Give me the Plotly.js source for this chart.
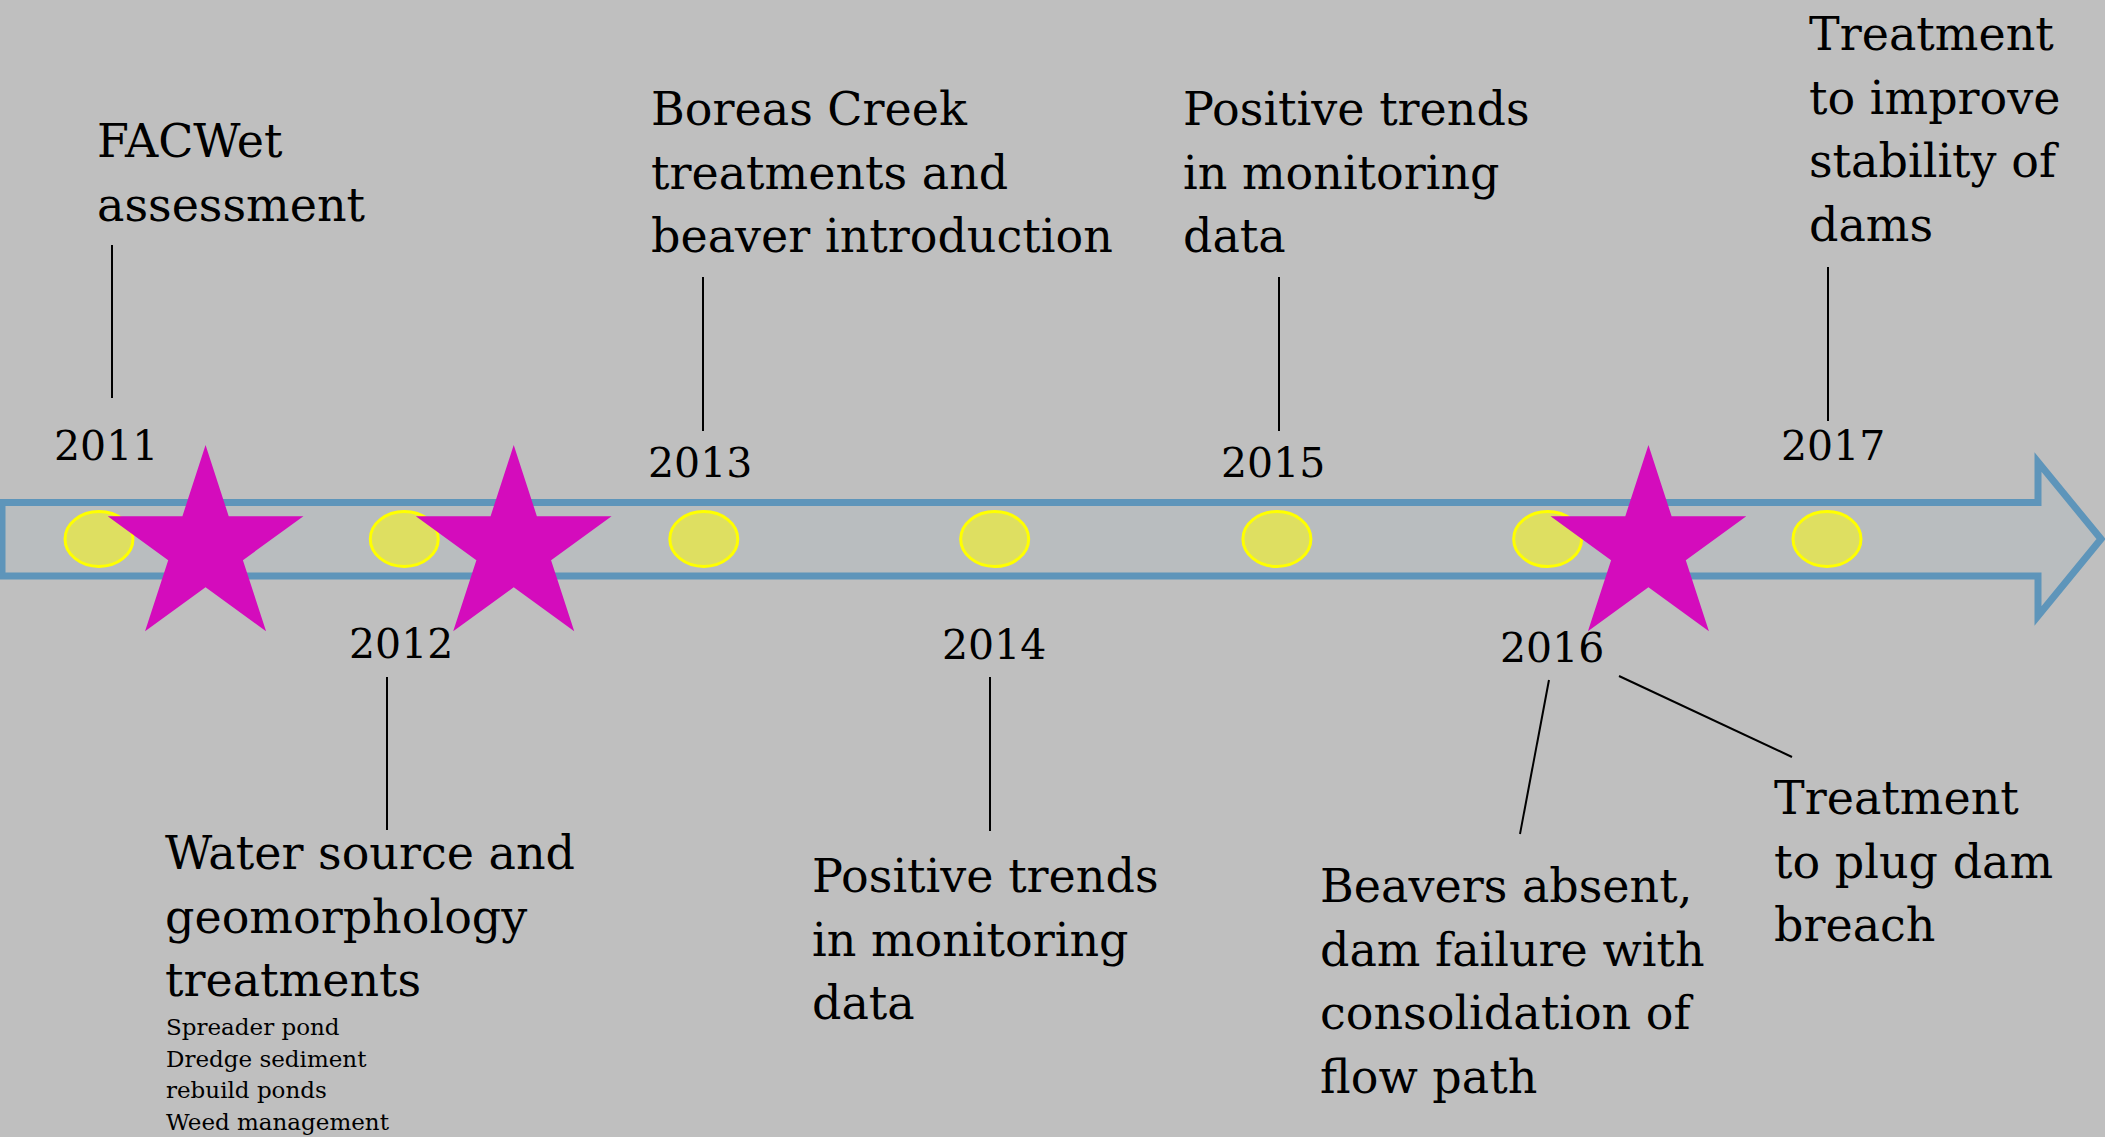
<!DOCTYPE html>
<html><head><meta charset="utf-8">
<script src="https://cdn.plot.ly/plotly-3.0.1.min.js"></script>
<style>html,body{margin:0;padding:0;background:#bfbfbf;overflow:hidden}</style>
</head><body><div id="chart" style="width:2105px;height:1137px"></div>
<script>
// ---------------- data ----------------
const years    = ['2011', '2012', '2013', '2014', '2015', '2016', '2017'];
const yearPos  = [2011.00, 2012.06, 2013.10, 2014.11, 2015.09, 2016.03, 2017.00]; // position of each year dot on the timeline
const yearSide = ['above', 'below', 'above', 'below', 'above', 'below', 'above'];
const starPos  = [2011.37, 2012.44, 2016.38]; // highlighted milestones

const eventText = [
  ['FACWet', 'assessment'],
  ['Water source and', 'geomorphology', 'treatments'],
  ['Boreas Creek', 'treatments and', 'beaver introduction'],
  ['Positive trends', 'in monitoring', 'data'],
  ['Positive trends', 'in monitoring', 'data'],
  ['Beavers absent,', 'dam failure with', 'consolidation of', 'flow path'],
  ['Treatment', 'to plug dam', 'breach'],
  ['Treatment', 'to improve', 'stability of', 'dams']
];
const subText = ['Spreader pond', 'Dredge sediment', 'rebuild ponds', 'Weed management'];

// ---------------- layout geometry (pixels) ----------------
const W = 2105, H = 1137;
const PX_PER_YEAR = 288;
const X0 = 2011 - 99 / PX_PER_YEAR;
const X1 = X0 + W / PX_PER_YEAR;
const px = v => v / W;                 // paper x from pixel
const LINE = 63.7;
const FONT = 'DejaVu Serif, Liberation Serif, serif';
const BIG = 46, YEARF = 41, SMALL = 23;
const TEXT_DX = -4;

// left edge and first baseline of each event block (same order as eventText)
const blockLeft = [99, 167, 653, 1185, 814, 1322, 1776, 1811];
const blockBase = [157, 869, 125, 125, 892, 902, 814, 50];
const subLeft = 167, subBase = 1035, subLine = 31.7;
// year label baselines
const yearBase = {above: [460, null, 477, null, 477, null, 460], below: [null, 658, null, 659, null, 662, null]};
const yearCenterPx = [106, 401, 700, 994, 1273, 1552, 1833];

// leader lines [x0,y0,x1,y1] in px
const leaders = [
  [112, 245, 112, 398], [387, 677, 387, 830], [703, 277, 703, 431],
  [990, 677, 990, 831], [1279, 277, 1279, 431], [1549, 680, 1520, 834],
  [1619, 676, 1792, 757], [1828, 267, 1828, 421]
];

const TL_Y = 539, STAR_Y = 548;

// ---------------- build ----------------
const shapes = [];
// arrow
const arrowPts = [[2, 502.5], [2038, 502.5], [2038, 462], [2101, 539], [2038, 616], [2038, 576], [2, 576]];
shapes.push({
  type: 'path', xref: 'paper', yref: 'y', layer: 'below',
  path: 'M' + arrowPts.map(p => px(p[0]) + ',' + p[1]).join(' L') + ' Z',
  fillcolor: '#b9bdbf', line: {color: '#5e95ba', width: 7}
});
// year dots (ellipses)
yearPos.forEach(x => {
  shapes.push({
    type: 'circle', xref: 'x', yref: 'y', layer: 'below',
    x0: x - 34 / PX_PER_YEAR, x1: x + 34 / PX_PER_YEAR, y0: TL_Y - 27.5, y1: TL_Y + 27.5,
    fillcolor: '#dedf61', line: {color: '#ffff00', width: 3}
  });
});
// leader lines
leaders.forEach(l => {
  shapes.push({type: 'line', xref: 'paper', yref: 'y', x0: px(l[0]), y0: l[1], x1: px(l[2]), y1: l[3],
               line: {color: '#000000', width: 2}});
});

const annotations = [];
const mid = (base, size) => base - 0.346 * size;
eventText.forEach((lines, i) => {
  lines.forEach((t, j) => {
    annotations.push({
      text: t, xref: 'paper', yref: 'y', x: px(blockLeft[i] + TEXT_DX), y: mid(blockBase[i] + j * LINE, BIG),
      xanchor: 'left', yanchor: 'middle', showarrow: false,
      font: {family: FONT, size: BIG, color: '#000000'}
    });
  });
});
subText.forEach((t, j) => {
  annotations.push({
    text: t, xref: 'paper', yref: 'y', x: px(subLeft + TEXT_DX + 1), y: mid(subBase + j * subLine, SMALL),
    xanchor: 'left', yanchor: 'middle', showarrow: false,
    font: {family: FONT, size: SMALL, color: '#000000'}
  });
});
years.forEach((t, i) => {
  const b = yearBase[yearSide[i]][i];
  annotations.push({
    text: t, xref: 'paper', yref: 'y', x: px(yearCenterPx[i]), y: mid(b, YEARF),
    xanchor: 'center', yanchor: 'middle', showarrow: false,
    font: {family: FONT, size: YEARF, color: '#000000'}
  });
});

const traces = [{
  type: 'scatter', mode: 'markers', x: starPos, y: starPos.map(() => STAR_Y),
  marker: {symbol: 'star', size: 147, color: '#d40cbc', line: {width: 0}},
  hoverinfo: 'skip', showlegend: false
}];

const layout = {
  width: W, height: H, autosize: false,
  margin: {l: 0, r: 0, t: 0, b: 0, pad: 0},
  paper_bgcolor: '#bfbfbf', plot_bgcolor: '#bfbfbf',
  showlegend: false,
  xaxis: {range: [X0, X1], visible: false, fixedrange: true},
  yaxis: {range: [H, 0], visible: false, fixedrange: true},
  shapes: shapes, annotations: annotations
};

Plotly.newPlot('chart', traces, layout, {staticPlot: true, displayModeBar: false});
</script>
</body></html>
